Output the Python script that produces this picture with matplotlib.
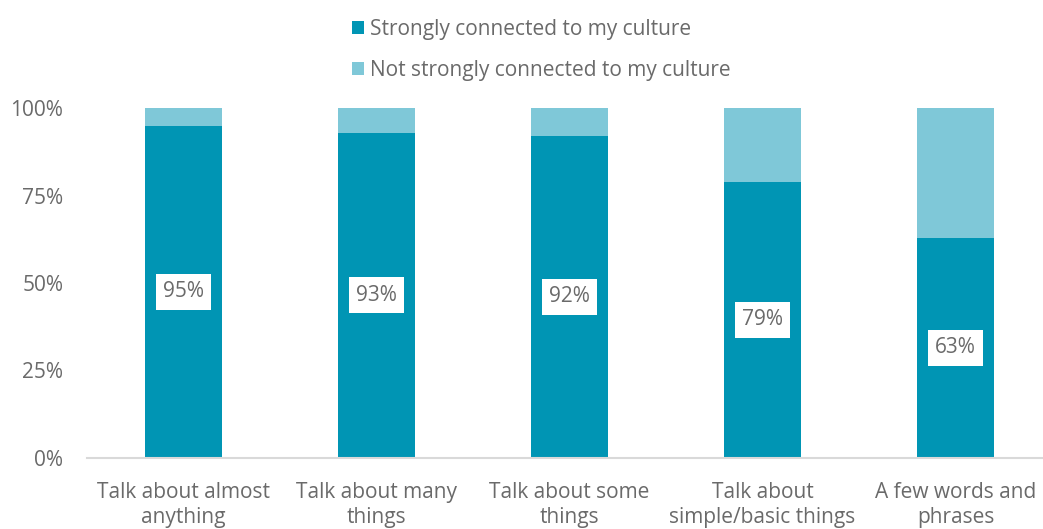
import matplotlib
matplotlib.use("Agg")
import matplotlib.pyplot as plt
import numpy as np

categories = ["Talk about almost\nanything", "Talk about many\nthings", "Talk about some\nthings",
              "Talk about\nsimple/basic things", "A few words and\nphrases"]
strong = [95, 93, 92, 79, 63]
not_strong = [100 - v for v in strong]
series_names = ["Strongly connected to my culture", "Not strongly connected to my culture"]
yticks = [0, 25, 50, 75, 100]
ytick_labels = ["0%", "25%", "50%", "75%", "100%"]

dark = "#0095B4"
light = "#7FC8D8"
text_col = "#6A6A6A"

plt.rcParams['font.family'] = ['Open Sans', 'DejaVu Sans']

W, H = 1043, 529
fig = plt.figure(figsize=(W / 100, H / 100), dpi=100)
ax = fig.add_axes([87 / W, (529 - 458) / H, (1043 - 87) / W, 350 / H])

x = np.arange(len(categories))
width = 0.4
ax.bar(x, strong, width, color=dark, label=series_names[0])
ax.bar(x, not_strong, width, bottom=strong, color=light, label=series_names[1])

for xi, v in zip(x, strong):
    ax.text(xi, v / 2, f"{v}%", ha="center", va="center", fontsize=15, color=text_col,
            bbox=dict(boxstyle="square,pad=0.35", facecolor="white", edgecolor="none"))

s = 193
ax.set_xlim(-0.5, -0.5 + (1043 - 87) / s)
ax.set_ylim(0, 100)
ax.set_yticks(yticks)
ax.set_yticklabels(ytick_labels)
ax.set_xticks(x)
ax.set_xticklabels(categories, linespacing=1.3)
ax.tick_params(axis="both", length=0, labelsize=15, colors=text_col)
ax.tick_params(axis="x", pad=17)
ax.tick_params(axis="y", pad=17)
for sp in ["top", "right", "left"]:
    ax.spines[sp].set_visible(False)
ax.spines["bottom"].set_color("#D9D9D9")
ax.spines["bottom"].set_linewidth(1.5)

leg = fig.legend(loc="upper center", bbox_to_anchor=(0.519, 0.992), ncol=1, frameon=False,
                 fontsize=15, labelcolor=text_col, handlelength=0.55, handleheight=0.55,
                 handletextpad=0.3, labelspacing=0.95, borderaxespad=0.3)

fig.savefig("out.png", dpi=100)
